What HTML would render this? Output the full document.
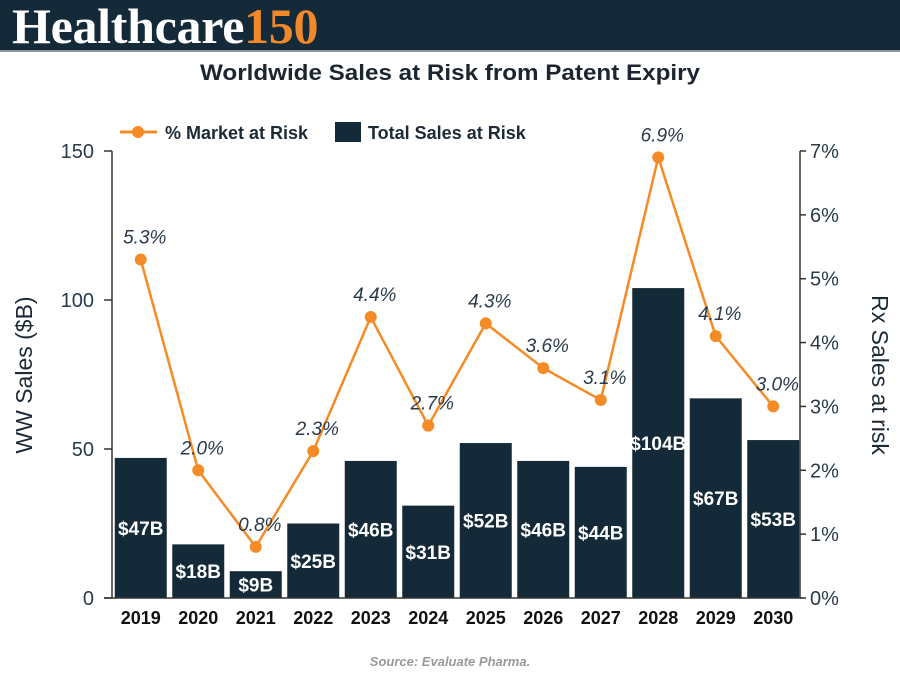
<!DOCTYPE html>
<html><head><meta charset="utf-8"><style>
body{margin:0;background:#fff;}
#wrap{position:relative;width:900px;height:675px;overflow:hidden;font-family:"Liberation Sans",sans-serif;}
#hdr{position:absolute;left:0;top:0;width:900px;height:50px;background:#142a38;border-bottom:2px solid #8a969e;}
#logo{position:absolute;left:12px;top:-3px;font-family:"Liberation Serif",serif;font-weight:bold;font-size:50px;color:#fff;letter-spacing:-0.3px;}
#logo span{color:#f0892a;}
</style></head><body>
<div id="wrap">
<div id="hdr"><div id="logo">Healthcare<span>150</span></div></div>
<svg id="svg" width="900" height="675" style="position:absolute;left:0;top:0"></svg>
</div>
<script>
const years=["2019","2020","2021","2022","2023","2024","2025","2026","2027","2028","2029","2030"];
const sales=[47,18,9,25,46,31,52,46,44,104,67,53];
const salesLabels=["$47B","$18B","$9B","$25B","$46B","$31B","$52B","$46B","$44B","$104B","$67B","$53B"];
const pct=[5.3,2.0,0.8,2.3,4.4,2.7,4.3,3.6,3.1,6.9,4.1,3.0];
const leftTicks=[0,50,100,150];
const rightTicks=[0,1,2,3,4,5,6,7];
const NS="http://www.w3.org/2000/svg";
const svg=document.getElementById('svg');
const X0=112,STEP=57.5,BW=52,Y0=598,YT=151;
const yL=v=>Y0-(v/150)*(Y0-YT);
const yR=v=>Y0-(v/7)*(Y0-YT);
const xc=i=>X0+STEP*i+STEP/2;
function mk(t,a,txt){const e=document.createElementNS(NS,t);for(const k in a)e.setAttribute(k,a[k]);if(txt!==undefined)e.textContent=txt;svg.appendChild(e);return e;}
let e;
e=mk('text',{x:450,y:80,'text-anchor':'middle','font-size':22,'font-weight':'bold',fill:'#1d2630',textLength:500,lengthAdjust:'spacingAndGlyphs'},'Worldwide Sales at Risk from Patent Expiry');


e=mk('line',{x1:120,y1:132,x2:157,y2:132,stroke:'#f58b26','stroke-width':3});


e=mk('circle',{cx:138,cy:132,r:6,fill:'#f58b26'});


e=mk('text',{x:165,y:139,'font-size':18,'font-weight':'bold',fill:'#1d2a36'},'% Market at Risk');


e=mk('rect',{x:335,y:122,width:26,height:20,fill:'#142a38'});


e=mk('text',{x:368,y:139,'font-size':18,'font-weight':'bold',fill:'#1d2a36'},'Total Sales at Risk');


sales.forEach((v,i)=>{
 const x=X0+STEP*i+(STEP-BW)/2;
 e=mk('rect',{x:x,y:yL(v),width:BW,height:Y0-yL(v),fill:'#142a38'});
 
 
 e=mk('text',{x:xc(i),y:(yL(v)+Y0)/2+7,'text-anchor':'middle','font-size':19,'font-weight':'bold',fill:'#fff'},salesLabels[i]);
 
 
 e=mk('text',{x:xc(i),y:624,'text-anchor':'middle','font-size':18,'font-weight':'bold',fill:'#111'},years[i]);
 
 
});
e=mk('line',{x1:X0,y1:YT,x2:X0,y2:Y0,stroke:'#333','stroke-width':1.5});


e=mk('line',{x1:X0-8,y1:Y0,x2:X0+12*STEP,y2:Y0,stroke:'#333','stroke-width':1.5});


const XR=X0+12*STEP-2;
e=mk('line',{x1:XR,y1:YT,x2:XR,y2:Y0,stroke:'#333','stroke-width':1.5});


leftTicks.forEach(t=>{
 mk('line',{x1:X0-8,y1:yL(t),x2:X0,y2:yL(t),stroke:'#333','stroke-width':1.5});
 e=mk('text',{x:X0-18,y:yL(t)+7,'text-anchor':'end','font-size':20,fill:'#2b3a4a'},String(t));
 
 
});
rightTicks.forEach(t=>{
 mk('line',{x1:XR,y1:yR(t),x2:XR+6,y2:yR(t),stroke:'#333','stroke-width':1.5});
 e=mk('text',{x:XR+10,y:yR(t)+7,'font-size':20,fill:'#2b3a4a'},t+'%');
 
 
});
e=mk('text',{x:32,y:375,'text-anchor':'middle','font-size':23,fill:'#1d2a36',transform:'rotate(-90 32 375)'},'WW Sales ($B)');


e=mk('text',{x:872,y:375,'text-anchor':'middle','font-size':23,fill:'#1d2a36',transform:'rotate(90 872 375)'},'Rx Sales at risk');


e=mk('polyline',{points:pct.map((v,i)=>xc(i)+','+yR(v)).join(' '),fill:'none',stroke:'#f58b26','stroke-width':2.5});


pct.forEach((v,i)=>{
 e=mk('circle',{cx:xc(i),cy:yR(v),r:6,fill:'#f58b26'});
 
 
 e=mk('text',{x:xc(i)+4,y:yR(v)-16,'text-anchor':'middle','font-size':19,'font-style':'italic',fill:'#2b3a4a'},v.toFixed(1)+'%');
 
 
});
e=mk('text',{x:450,y:666,'text-anchor':'middle','font-size':13,'font-style':'italic','font-weight':'bold',fill:'#999'},'Source: Evaluate Pharma.');


</script>
</body></html>
